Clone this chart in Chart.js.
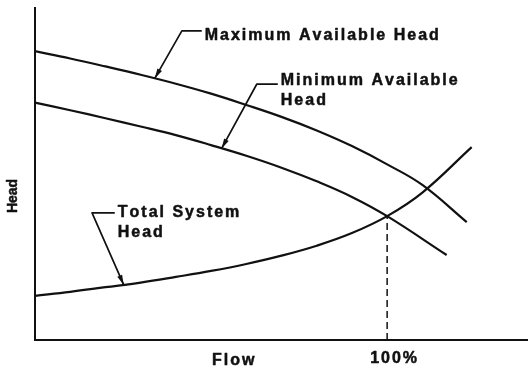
<!DOCTYPE html>
<html>
<head>
<meta charset="utf-8">
<script src="https://cdn.jsdelivr.net/npm/chart.js@4/dist/chart.umd.min.js"></script>
<style>
  html, body { margin: 0; padding: 0; background: #ffffff; }
  canvas { display: block; }
</style>
</head>
<body>
<canvas id="pumpChart" width="528" height="370"></canvas>
<script>
// Pump curves: flow in % of design, head in relative units
const maxFlow = [0, 10, 20, 30, 40, 50, 60, 70, 80, 90, 100, 110, 122.6];
const maxHead = [87.0, 84.8, 82.4, 79.9, 77.2, 74.2, 70.8, 67.2, 63.1, 58.4, 52.9, 46.7, 35.5];

const minFlow = [0, 10, 20, 30, 40, 50, 60, 70, 80, 90, 100, 116.9];
const minHead = [71.5, 69.2, 66.8, 64.3, 61.7, 58.7, 55.5, 51.9, 47.8, 43.1, 37.3, 25.6];

const sysFlow = [0, 10, 20, 30, 40, 50, 60, 70, 80, 90, 100, 110, 124.0];
const sysHead = [13.3, 14.5, 15.9, 17.3, 19.0, 20.8, 22.9, 25.4, 28.4, 32.2, 37.3, 44.4, 58.1];

// Design flow marked on the flow axis
const designFlow = 100;
const designFlowLabel = designFlow + '%';

const axisTitles = { x: 'Flow', y: 'Head' };

const toPoints = (xs, ys) => xs.map((x, i) => ({ x: x, y: ys[i] }));
const designHead = sysHead[sysFlow.indexOf(designFlow)];

const INK = '#111111';
const LABEL_FONT = 'bold 16px "Liberation Sans", Arial, Helvetica, sans-serif';
const LETTER_GAP = 2.0;

// Callout labels: text lines, leader elbow, and the point on the curve they point to
const callouts = [
  { lines: ['Maximum Available Head'], text: { x: 48.2, y: 90.4 }, elbow: { x: 41.7, y: 93.1 }, tip: { x: 34.0, y: 78.8 } },
  { lines: ['Minimum Available', 'Head'], text: { x: 69.8, y: 76.8 }, elbow: { x: 63.0, y: 77.1 }, tip: { x: 53.0, y: 57.7 } },
  { lines: ['Total System', 'Head'], text: { x: 23.5, y: 37.0 }, elbow: { x: 16.2, y: 38.3 }, tip: { x: 25.2, y: 16.6 } }
];

// letter-spaced bold text, slightly thickened
function drawSpaced(ctx, text, x, y, gap) {
  let cx = x;
  for (const ch of text) {
    ctx.fillText(ch, cx, y);
    ctx.strokeText(ch, cx, y);
    cx += ctx.measureText(ch).width + gap;
  }
}

const calloutPlugin = {
  id: 'callouts',
  afterDatasetsDraw(chart) {
    const { ctx, scales: { x, y }, chartArea } = chart;
    ctx.save();
    ctx.fillStyle = INK;
    ctx.strokeStyle = INK;
    ctx.textBaseline = 'alphabetic';
    ctx.textAlign = 'left';
    ctx.lineJoin = 'round';

    callouts.forEach(c => {
      const tx = x.getPixelForValue(c.text.x);
      const ex = x.getPixelForValue(c.elbow.x);
      const ey = y.getPixelForValue(c.elbow.y);
      const px = x.getPixelForValue(c.tip.x);
      const py = y.getPixelForValue(c.tip.y);

      // leader: short horizontal run, then a slanted stroke to the curve
      ctx.lineWidth = 1.7;
      ctx.beginPath();
      ctx.moveTo(tx - 3, ey);
      ctx.lineTo(ex, ey);
      ctx.lineTo(px, py);
      ctx.stroke();

      // arrowhead
      const ang = Math.atan2(py - ey, px - ex);
      const len = 10, half = 2.6;
      ctx.beginPath();
      ctx.moveTo(px, py);
      ctx.lineTo(px - len * Math.cos(ang) + half * Math.sin(ang), py - len * Math.sin(ang) - half * Math.cos(ang));
      ctx.lineTo(px - len * Math.cos(ang) - half * Math.sin(ang), py - len * Math.sin(ang) + half * Math.cos(ang));
      ctx.closePath();
      ctx.fill();

      // text lines
      ctx.font = LABEL_FONT;
      ctx.lineWidth = 0.5;
      const base = y.getPixelForValue(c.text.y);
      c.lines.forEach((line, i) => drawSpaced(ctx, line, tx, base + i * 19.5, LETTER_GAP));
    });

    // flow axis labels
    ctx.font = LABEL_FONT;
    ctx.lineWidth = 0.5;
    drawSpaced(ctx, axisTitles.x, 212, chartArea.bottom + 25, LETTER_GAP);
    const dx = x.getPixelForValue(designFlow);
    drawSpaced(ctx, designFlowLabel, dx - 17, chartArea.bottom + 23, LETTER_GAP);

    // head axis label, rotated
    ctx.font = 'bold 14px "Liberation Sans", Arial, Helvetica, sans-serif';
    ctx.translate(13.5, 196);
    ctx.rotate(-Math.PI / 2);
    ctx.textAlign = 'center';
    ctx.textBaseline = 'middle';
    ctx.fillText(axisTitles.y, 0, 0);
    ctx.strokeText(axisTitles.y, 0, 0);
    ctx.restore();
  }
};

const lineStyle = {
  borderColor: INK,
  borderWidth: 2.2,
  pointRadius: 0,
  showLine: true,
  fill: false,
  tension: 0.4,
  clip: false
};

new Chart(document.getElementById('pumpChart'), {
  type: 'scatter',
  data: {
    datasets: [
      Object.assign({ label: 'Maximum Available Head', data: toPoints(maxFlow, maxHead) }, lineStyle),
      Object.assign({ label: 'Minimum Available Head', data: toPoints(minFlow, minHead) }, lineStyle),
      Object.assign({ label: 'Total System Head', data: toPoints(sysFlow, sysHead) }, lineStyle),
      {
        label: 'Design flow',
        data: [{ x: designFlow, y: 0 }, { x: designFlow, y: designHead }],
        showLine: true,
        borderColor: INK,
        borderWidth: 1.5,
        borderDash: [7, 4],
        pointRadius: 0,
        fill: false
      }
    ]
  },
  options: {
    responsive: false,
    animation: false,
    events: [],
    layout: { padding: { left: 35, top: 8, right: 0, bottom: 30 } },
    plugins: { legend: { display: false }, tooltip: { enabled: false } },
    scales: {
      x: {
        type: 'linear', min: 0, max: 140,
        grid: { display: false, drawTicks: false },
        ticks: { display: false },
        border: { display: true, color: INK, width: 2 }
      },
      y: {
        type: 'linear', min: 0, max: 100,
        grid: { display: false, drawTicks: false },
        ticks: { display: false },
        border: { display: true, color: INK, width: 2 }
      }
    }
  },
  plugins: [calloutPlugin]
});
</script>
</body>
</html>
